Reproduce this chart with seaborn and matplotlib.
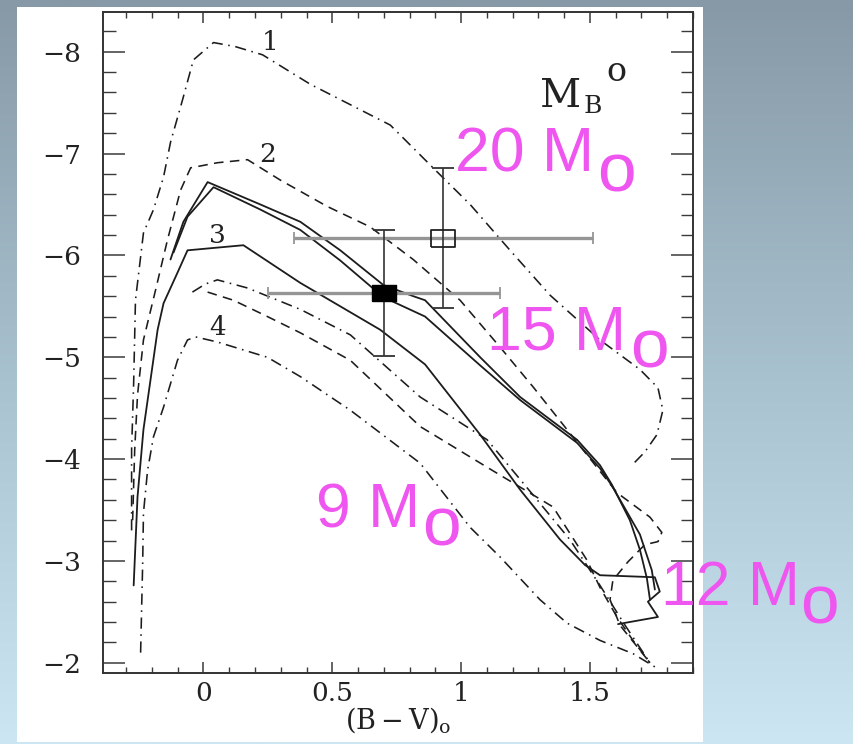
import numpy as np
import matplotlib
matplotlib.use("Agg")
import matplotlib.pyplot as plt
import seaborn as sns
from matplotlib.colors import LinearSegmentedColormap
from matplotlib.patches import Rectangle
from matplotlib.ticker import MultipleLocator

# Evolutionary tracks in the colour-magnitude plane: (B-V)_0 vs M_B^0
track1_bv = [-0.279, -0.279, -0.271, -0.264, -0.233, -0.194, -0.155, -0.128, -0.081, -0.039,
             0.039, 0.124, 0.229, 0.415, 0.725, 0.907, 1.035, 1.190, 1.345, 1.539,
             1.694, 1.764, 1.783, 1.760, 1.713, 1.663]
track1_mb = [-3.30, -4.09, -4.75, -5.56, -6.22, -6.45, -6.77, -7.11, -7.53, -7.92,
             -8.09, -8.05, -7.97, -7.68, -7.28, -6.82, -6.50, -6.05, -5.61, -5.17,
             -4.88, -4.70, -4.48, -4.24, -4.07, -3.94]

track2_bv = [-0.275, -0.267, -0.256, -0.233, -0.186, -0.140, -0.089, -0.050, 0.054, 0.171,
             0.298, 0.481, 0.647, 0.814, 0.996, 1.151, 1.279, 1.411, 1.605, 1.733,
             1.779, 1.764, 1.713, 1.647, 1.589, 1.578, 1.616, 1.686, 1.733]
track2_mb = [-3.40, -4.09, -4.63, -5.17, -5.66, -6.15, -6.64, -6.86, -6.91, -6.94,
             -6.74, -6.48, -6.28, -5.96, -5.56, -5.10, -4.71, -4.29, -3.67, -3.43,
             -3.28, -3.19, -3.16, -2.99, -2.81, -2.62, -2.37, -2.15, -2.00]

solid_a_bv = [-0.128, -0.078, 0.016, 0.221, 0.376, 0.531, 0.698, 0.814, 0.860, 1.074,
              1.229, 1.450, 1.539, 1.585, 1.655, 1.694, 1.721, 1.733]
solid_a_mb = [-5.96, -6.33, -6.72, -6.50, -6.33, -6.05, -5.71, -5.60, -5.56, -5.00,
              -4.61, -4.19, -3.94, -3.75, -3.40, -3.11, -2.83, -2.62]

solid_b_bv = [-0.116, -0.062, 0.039, 0.221, 0.376, 0.531, 0.698, 0.860, 1.074, 1.229,
              1.450, 1.539, 1.585, 1.694, 1.740, 1.752]
solid_b_mb = [-6.03, -6.38, -6.67, -6.45, -6.25, -5.95, -5.59, -5.40, -4.92, -4.58,
              -4.16, -3.91, -3.74, -3.26, -2.91, -2.72]

track3_bv = [-0.271, -0.256, -0.233, -0.178, -0.155, -0.101, -0.062, 0.155, 0.376, 0.686,
             0.860, 1.074, 1.229, 1.384, 1.481, 1.539, 1.752, 1.771, 1.725, 1.764, 1.609]
track3_mb = [-2.76, -3.63, -4.29, -5.27, -5.53, -5.83, -6.05, -6.10, -5.73, -5.27,
             -4.93, -4.24, -3.70, -3.21, -2.96, -2.86, -2.84, -2.70, -2.60, -2.45, -2.38]

track5_bv = [-0.043, 0.008, 0.054, 0.171, 0.376, 0.570, 0.841, 1.101, 1.295, 1.422,
             1.539, 1.636, 1.725]
track5_mb = [-5.64, -5.72, -5.76, -5.68, -5.47, -5.22, -4.61, -4.19, -3.60, -3.21,
             -2.76, -2.37, -2.03]

track6_bv = [0.016, 0.116, 0.248, 0.376, 0.570, 0.841, 1.101, 1.357, 1.488, 1.539,
             1.605, 1.667, 1.733]
track6_mb = [-5.64, -5.56, -5.40, -5.24, -4.97, -4.32, -3.92, -3.53, -3.01, -2.74,
             -2.45, -2.22, -2.00]

track4_bv = [-0.244, -0.236, -0.233, -0.217, -0.194, -0.155, -0.101, -0.062, -0.031, 0.054,
             0.248, 0.376, 0.570, 0.841, 1.035, 1.151, 1.306, 1.411, 1.539, 1.667, 1.752]
track4_mb = [-2.10, -2.98, -3.47, -3.89, -4.22, -4.51, -4.97, -5.17, -5.20, -5.15,
             -5.00, -4.81, -4.48, -3.96, -3.33, -3.04, -2.62, -2.39, -2.22, -2.09, -1.96]

# Observed points with their uncertainties
obs_bv = [0.70, 0.93]
obs_mb = [-5.63, -6.17]
obs_bv_err = [0.45, 0.58]
obs_mb_err = [0.62, 0.69]

track_labels = ["1", "2", "3", "4"]
track_label_bv = [0.260, 0.248, 0.054, 0.054]
track_label_mb = [-8.09, -6.99, -6.20, -5.29]

mass_labels = ["20 M", "15 M", "9 M", "12 M"]

x_ticks = [0, 0.5, 1, 1.5]
x_tick_labels = ["0", "0.5", "1", "1.5"]
y_ticks = [-8, -7, -6, -5, -4, -3, -2]

sns.set_theme(style="ticks")
plt.rcParams["font.family"] = ["DejaVu Serif"]
plt.rcParams["mathtext.fontset"] = "dejavuserif"

W, H = 854, 744
fig = plt.figure(figsize=(W / 100, H / 100), dpi=100)

# slide-style backdrop with a white panel
bg = fig.add_axes([0, 0, 1, 1], zorder=0)
grad = np.linspace(0, 1, 256)[:, None]
cmap = LinearSegmentedColormap.from_list("bg", ["#8799a6", "#a8c1cf", "#cde6f3"])
bg.imshow(grad, aspect="auto", cmap=cmap, extent=[0, 1, 0, 1], origin="upper")
bg.add_patch(Rectangle((17 / W, 2 / H), 686 / W, 735 / H, facecolor="white",
                       edgecolor="none", transform=bg.transAxes))
bg.set_xlim(0, 1)
bg.set_ylim(0, 1)
bg.axis("off")

ax = fig.add_axes([103 / W, 1 - 673 / H, 590 / W, 661 / H], zorder=1)
ax.set_facecolor("white")

ink = "#1c1c1c"
DASH = [6, 4]
DASHDOT = [7, 3.5, 1, 3.5]


def track(x, y, dashes=None, lw=1.15):
    sns.lineplot(x=x, y=y, sort=False, estimator=None, ax=ax, color=ink, linewidth=lw)
    line = ax.lines[-1]
    if dashes is not None:
        line.set_dashes(dashes)


track(track1_bv, track1_mb, DASHDOT)
track(track2_bv, track2_mb, DASH)
track(solid_a_bv, solid_a_mb, None, 1.3)
track(solid_b_bv, solid_b_mb, None, 1.3)
track(track3_bv, track3_mb, None, 1.3)
track(track5_bv, track5_mb, DASHDOT)
track(track6_bv, track6_mb, DASH)
track(track4_bv, track4_mb, DASHDOT)

# error bars: grey horizontal, dark vertical
ax.errorbar(obs_bv, obs_mb, xerr=obs_bv_err, fmt="none", ecolor="#959595",
            elinewidth=2.4, capsize=4.5, capthick=1.3, zorder=3)
ax.errorbar(obs_bv, obs_mb, yerr=obs_mb_err, fmt="none", ecolor="#333333",
            elinewidth=1.2, capsize=8, capthick=1.3, zorder=3)

rect = [(-1, -0.72), (1, -0.72), (1, 0.72), (-1, 0.72), (-1, -0.72)]
sns.scatterplot(x=obs_bv[:1], y=obs_mb[:1], marker=rect, s=275, color="black",
                edgecolor="black", linewidth=1.0, ax=ax, zorder=4)
sns.scatterplot(x=obs_bv[1:], y=obs_mb[1:], marker=rect, s=290, facecolors="none",
                edgecolor="#222222", linewidth=1.3, ax=ax, zorder=4)

for t, xv, yv in zip(track_labels, track_label_bv, track_label_mb):
    ax.text(xv, yv, t, fontsize=19, color="#222222", ha="center", va="center")

# axis title inside the frame: M_B with superscript o
ax.text(1.308, -7.46, "M", fontsize=29, color="#222222", ha="left", va="baseline")
ax.text(1.475, -7.40, "B", fontsize=18, color="#222222", ha="left", va="baseline")
ax.text(1.565, -7.71, "o", fontsize=24, color="#222222", ha="left", va="baseline")

ax.set_xlim(-0.39, 1.90)
ax.set_ylim(-1.90, -8.39)
ax.set_xticks(x_ticks)
ax.set_xticklabels(x_tick_labels)
ax.set_yticks(y_ticks)
ax.xaxis.set_minor_locator(MultipleLocator(0.1))
ax.yaxis.set_minor_locator(MultipleLocator(0.2))

tick_col = "#3a3a3a"
ax.tick_params(axis="y", which="major", direction="in", length=16, width=1.1,
               left=True, right=True, pad=16, labelsize=19, colors=tick_col,
               labelcolor="#222222")
ax.tick_params(axis="y", which="minor", direction="in", length=9, width=1.0,
               left=True, right=True, colors=tick_col)
ax.tick_params(axis="x", which="major", direction="in", length=8, width=1.1,
               bottom=True, top=True, pad=6, labelsize=19, colors=tick_col,
               labelcolor="#222222")
ax.tick_params(axis="x", which="minor", direction="in", length=4, width=1.0,
               bottom=True, top=True, colors=tick_col)
for sp in ax.spines.values():
    sp.set_visible(True)
    sp.set_linewidth(1.4)
    sp.set_color("#333333")

ax.set_xlabel(r"$(\mathrm{B-V})_\mathrm{o}$", fontsize=19.5, color="#222222", labelpad=-1)
ax.set_ylabel("")

# mass annotations
mag = "#ef55ef"
mass_pos = [(455, 172), (487, 350), (316, 527), (661, 605)]
sub_pos = [(597, 192), (630, 368), (422, 545), (800, 623)]
for txt, (px, py), (sx, sy) in zip(mass_labels, mass_pos, sub_pos):
    fig.text(px / W, 1 - py / H, txt, fontsize=45, color=mag, family="Liberation Sans",
             ha="left", va="baseline", zorder=5)
    fig.text(sx / W, 1 - sy / H, "o", fontsize=50, color=mag, family="Liberation Sans",
             ha="left", va="baseline", zorder=5)

fig.savefig("out.png", dpi=100)
